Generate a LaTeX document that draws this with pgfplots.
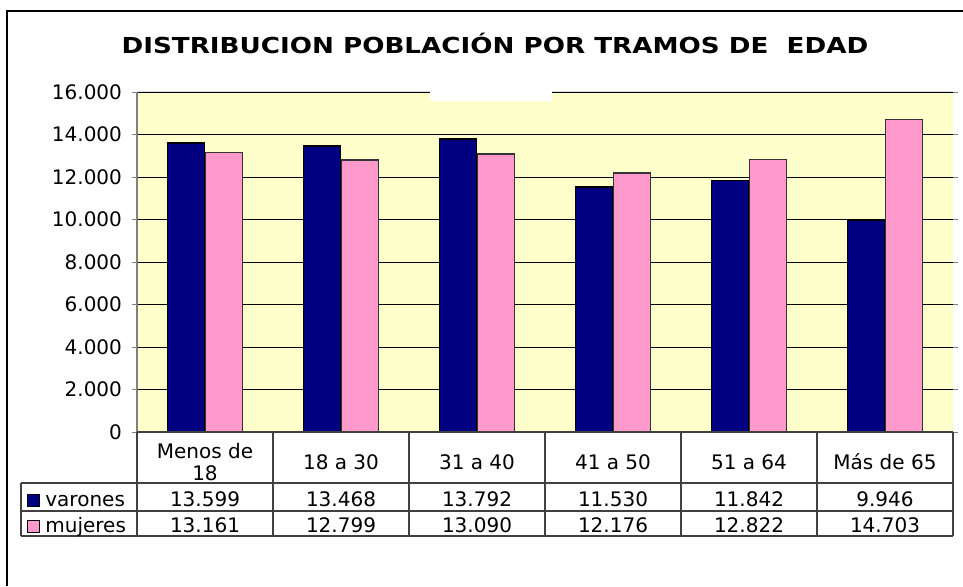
\documentclass[border=0pt]{standalone}
\usepackage{pgfplots}
\pgfplotsset{compat=1.18}
\usepackage{fontspec}
\setmainfont{DejaVu Sans}
\definecolor{navyb}{HTML}{000080}
\definecolor{pinkb}{HTML}{FF99CC}
\definecolor{bgy}{HTML}{FFFFCC}
\begin{document}
\begin{tikzpicture}[x=0.5pt,y=0.5pt]
\useasboundingbox (0,0) rectangle (963,-586);
\coordinate (O) at (137,-432);
\begin{axis}[
  at={(O)}, anchor=south west,
  scale only axis, width=408pt, height=170pt,
  xmin=-0.5, xmax=5.5, ymin=0, ymax=16000,
  axis background/.style={fill=bgy},
  axis line style={draw=none},
  xtick={0,...,5},
  xticklabels={{Menos de\\18},{18 a 30},{31 a 40},{41 a 50},{51 a 64},{Más de 65}},
  xtick style={draw=none},
  xticklabel style={align=center, anchor=center, font=\fontsize{10}{10.6}\selectfont, yshift=-12.5pt},
  ytick={0,2000,...,16000},
  ymajorgrids, grid style={black, line width=0.5pt},
  tick align=outside, major tick length=2.5pt,
  ytick style={gray, line width=0.5pt},
  scaled y ticks=false,
  yticklabel style={/pgf/number format/.cd, 1000 sep={.}, assume math mode=true, /tikz/.cd, font=\fontsize{10}{12}\selectfont, xshift=-1.5pt},
  clip=false,
]
\addplot[ybar, bar width=18.5pt, bar shift=-9.5pt, fill=navyb, draw=black, line width=0.8pt]
  coordinates {(0,13599) (1,13468) (2,13792) (3,11530) (4,11842) (5,9946)};
\addplot[ybar, bar width=18.5pt, bar shift=9.5pt, fill=pinkb, draw=black!80, line width=0.8pt]
  coordinates {(0,13161) (1,12799) (2,13090) (3,12176) (4,12822) (5,14703)};
\end{axis}
% decorations
\fill[white] (430,-90.5) rectangle (552,-101);
\draw[gray!25, line width=0.6pt] (137,-91.5) -- (430,-91.5) (552,-91.5) -- (953,-91.5);
\draw[gray, line width=0.6pt] (137,-92) -- (137,-432);
% table grid
\begin{scope}[draw=black!75, line width=0.6pt]
\draw (137,-432) -- (953,-432);
\draw (21,-483) -- (953,-483);
\draw (21,-511) -- (953,-511);
\draw (21,-536) -- (953,-536);
\draw (21,-483) -- (21,-536);
\foreach \xx in {137,273,409,545,681,817,953} {\draw (\xx,-432) -- (\xx,-536);}
\end{scope}
\begin{scope}[font=\fontsize{10}{12}\selectfont]
\node[anchor=base] at (205,-506) {13.599};
\node[anchor=base] at (341,-506) {13.468};
\node[anchor=base] at (477,-506) {13.792};
\node[anchor=base] at (613,-506) {11.530};
\node[anchor=base] at (749,-506) {11.842};
\node[anchor=base] at (885,-506) {9.946};
\node[anchor=base] at (205,-532.5) {13.161};
\node[anchor=base] at (341,-532.5) {12.799};
\node[anchor=base] at (477,-532.5) {13.090};
\node[anchor=base] at (613,-532.5) {12.176};
\node[anchor=base] at (749,-532.5) {12.822};
\node[anchor=base] at (885,-532.5) {14.703};
\filldraw[fill=navyb, draw=black, line width=0.5pt] (27.5,-494.5) rectangle (39,-506);
\node[anchor=base west, inner sep=0pt] at (45,-506) {varones};
\filldraw[fill=pinkb, draw=black, line width=0.5pt] (27.5,-520.5) rectangle (39,-532);
\node[anchor=base west, inner sep=0pt] at (45,-532.5) {mujeres};
\end{scope}
\node[anchor=base, font=\bfseries\fontsize{11}{12}\selectfont, inner sep=0pt] at (495,-53.3) {\scalebox{1.19}[1]{DISTRIBUCION POBLACIÓN POR TRAMOS DE\ \ EDAD}};
\draw[black, line width=1pt] (7,-586) -- (7,-11) -- (963,-11);
\end{tikzpicture}
\end{document}
